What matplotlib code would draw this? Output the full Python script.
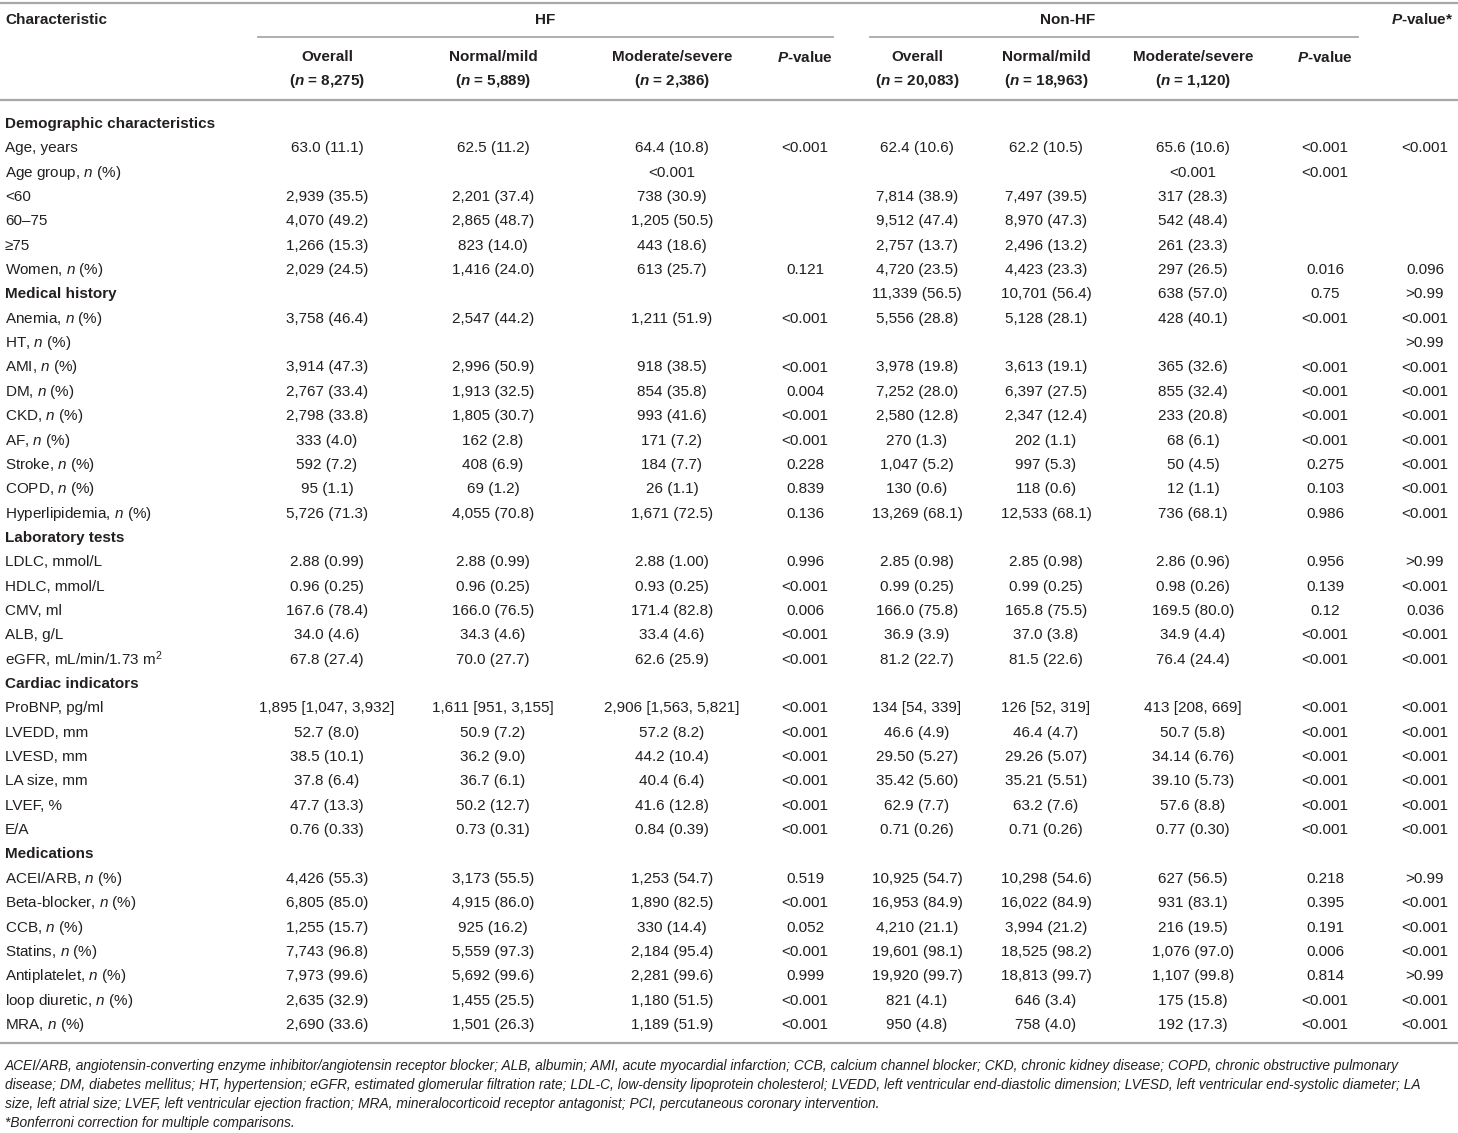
import matplotlib
matplotlib.use("Agg")
import matplotlib.pyplot as plt

plt.rcParams['font.family'] = ['Liberation Sans', 'DejaVu Sans']
plt.rcParams['mathtext.fontset'] = 'custom'
plt.rcParams['mathtext.rm'] = 'Liberation Sans'
plt.rcParams['mathtext.it'] = 'Liberation Sans:italic'
plt.rcParams['mathtext.bf'] = 'Liberation Sans:bold'
plt.rcParams['mathtext.bfit'] = 'Liberation Sans:italic:bold'

N = r'$\mathit{n}$'

# row labels and section flags
labels = ['Demographic characteristics', 'Age, years', 'Age group, ' + N + ' (%)', '<60', '60\u201375', '\u226575',
          'Women, ' + N + ' (%)', 'Medical history', 'Anemia, ' + N + ' (%)', 'HT, ' + N + ' (%)',
          'AMI, ' + N + ' (%)', 'DM, ' + N + ' (%)', 'CKD, ' + N + ' (%)', 'AF, ' + N + ' (%)',
          'Stroke, ' + N + ' (%)', 'COPD, ' + N + ' (%)', 'Hyperlipidemia, ' + N + ' (%)',
          'Laboratory tests', 'LDLC, mmol/L', 'HDLC, mmol/L', 'CMV, ml', 'ALB, g/L',
          'eGFR, mL/min/1.73 m$^2$', 'Cardiac indicators', 'ProBNP, pg/ml', 'LVEDD, mm', 'LVESD, mm',
          'LA size, mm', 'LVEF, %', 'E/A', 'Medications', 'ACEI/ARB, ' + N + ' (%)',
          'Beta-blocker, ' + N + ' (%)', 'CCB, ' + N + ' (%)', 'Statins, ' + N + ' (%)',
          'Antiplatelet, ' + N + ' (%)', 'loop diuretic, ' + N + ' (%)', 'MRA, ' + N + ' (%)']
sections = [0, 7, 17, 23, 30]

hf_overall = ['', '63.0 (11.1)', '', '2,939 (35.5)', '4,070 (49.2)', '1,266 (15.3)', '2,029 (24.5)', '',
              '3,758 (46.4)', '', '3,914 (47.3)', '2,767 (33.4)', '2,798 (33.8)', '333 (4.0)', '592 (7.2)',
              '95 (1.1)', '5,726 (71.3)', '', '2.88 (0.99)', '0.96 (0.25)', '167.6 (78.4)', '34.0 (4.6)',
              '67.8 (27.4)', '', '1,895 [1,047, 3,932]', '52.7 (8.0)', '38.5 (10.1)', '37.8 (6.4)',
              '47.7 (13.3)', '0.76 (0.33)', '', '4,426 (55.3)', '6,805 (85.0)', '1,255 (15.7)',
              '7,743 (96.8)', '7,973 (99.6)', '2,635 (32.9)', '2,690 (33.6)']
hf_mild = ['', '62.5 (11.2)', '', '2,201 (37.4)', '2,865 (48.7)', '823 (14.0)', '1,416 (24.0)', '',
           '2,547 (44.2)', '', '2,996 (50.9)', '1,913 (32.5)', '1,805 (30.7)', '162 (2.8)', '408 (6.9)',
           '69 (1.2)', '4,055 (70.8)', '', '2.88 (0.99)', '0.96 (0.25)', '166.0 (76.5)', '34.3 (4.6)',
           '70.0 (27.7)', '', '1,611 [951, 3,155]', '50.9 (7.2)', '36.2 (9.0)', '36.7 (6.1)',
           '50.2 (12.7)', '0.73 (0.31)', '', '3,173 (55.5)', '4,915 (86.0)', '925 (16.2)',
           '5,559 (97.3)', '5,692 (99.6)', '1,455 (25.5)', '1,501 (26.3)']
hf_severe = ['', '64.4 (10.8)', '<0.001', '738 (30.9)', '1,205 (50.5)', '443 (18.6)', '613 (25.7)', '',
             '1,211 (51.9)', '', '918 (38.5)', '854 (35.8)', '993 (41.6)', '171 (7.2)', '184 (7.7)',
             '26 (1.1)', '1,671 (72.5)', '', '2.88 (1.00)', '0.93 (0.25)', '171.4 (82.8)', '33.4 (4.6)',
             '62.6 (25.9)', '', '2,906 [1,563, 5,821]', '57.2 (8.2)', '44.2 (10.4)', '40.4 (6.4)',
             '41.6 (12.8)', '0.84 (0.39)', '', '1,253 (54.7)', '1,890 (82.5)', '330 (14.4)',
             '2,184 (95.4)', '2,281 (99.6)', '1,180 (51.5)', '1,189 (51.9)']
hf_p = ['', '<0.001', '', '', '', '', '0.121', '', '<0.001', '', '<0.001', '0.004', '<0.001', '<0.001',
        '0.228', '0.839', '0.136', '', '0.996', '<0.001', '0.006', '<0.001', '<0.001', '', '<0.001',
        '<0.001', '<0.001', '<0.001', '<0.001', '<0.001', '', '0.519', '<0.001', '0.052', '<0.001',
        '0.999', '<0.001', '<0.001']
non_overall = ['', '62.4 (10.6)', '', '7,814 (38.9)', '9,512 (47.4)', '2,757 (13.7)', '4,720 (23.5)',
               '11,339 (56.5)', '5,556 (28.8)', '', '3,978 (19.8)', '7,252 (28.0)', '2,580 (12.8)',
               '270 (1.3)', '1,047 (5.2)', '130 (0.6)', '13,269 (68.1)', '', '2.85 (0.98)', '0.99 (0.25)',
               '166.0 (75.8)', '36.9 (3.9)', '81.2 (22.7)', '', '134 [54, 339]', '46.6 (4.9)',
               '29.50 (5.27)', '35.42 (5.60)', '62.9 (7.7)', '0.71 (0.26)', '', '10,925 (54.7)',
               '16,953 (84.9)', '4,210 (21.1)', '19,601 (98.1)', '19,920 (99.7)', '821 (4.1)', '950 (4.8)']
non_mild = ['', '62.2 (10.5)', '', '7,497 (39.5)', '8,970 (47.3)', '2,496 (13.2)', '4,423 (23.3)',
            '10,701 (56.4)', '5,128 (28.1)', '', '3,613 (19.1)', '6,397 (27.5)', '2,347 (12.4)',
            '202 (1.1)', '997 (5.3)', '118 (0.6)', '12,533 (68.1)', '', '2.85 (0.98)', '0.99 (0.25)',
            '165.8 (75.5)', '37.0 (3.8)', '81.5 (22.6)', '', '126 [52, 319]', '46.4 (4.7)',
            '29.26 (5.07)', '35.21 (5.51)', '63.2 (7.6)', '0.71 (0.26)', '', '10,298 (54.6)',
            '16,022 (84.9)', '3,994 (21.2)', '18,525 (98.2)', '18,813 (99.7)', '646 (3.4)', '758 (4.0)']
non_severe = ['', '65.6 (10.6)', '<0.001', '317 (28.3)', '542 (48.4)', '261 (23.3)', '297 (26.5)',
              '638 (57.0)', '428 (40.1)', '', '365 (32.6)', '855 (32.4)', '233 (20.8)', '68 (6.1)',
              '50 (4.5)', '12 (1.1)', '736 (68.1)', '', '2.86 (0.96)', '0.98 (0.26)', '169.5 (80.0)',
              '34.9 (4.4)', '76.4 (24.4)', '', '413 [208, 669]', '50.7 (5.8)', '34.14 (6.76)',
              '39.10 (5.73)', '57.6 (8.8)', '0.77 (0.30)', '', '627 (56.5)', '931 (83.1)', '216 (19.5)',
              '1,076 (97.0)', '1,107 (99.8)', '175 (15.8)', '192 (17.3)']
non_p = ['', '<0.001', '<0.001', '', '', '', '0.016', '0.75', '<0.001', '', '<0.001', '<0.001', '<0.001',
         '<0.001', '0.275', '0.103', '0.986', '', '0.956', '0.139', '0.12', '<0.001', '<0.001', '',
         '<0.001', '<0.001', '<0.001', '<0.001', '<0.001', '<0.001', '', '0.218', '0.395', '0.191',
         '0.006', '0.814', '<0.001', '<0.001']
p_star = ['', '<0.001', '', '', '', '', '0.096', '>0.99', '<0.001', '>0.99', '<0.001', '<0.001', '<0.001',
          '<0.001', '<0.001', '<0.001', '<0.001', '', '>0.99', '<0.001', '0.036', '<0.001', '<0.001', '',
          '<0.001', '<0.001', '<0.001', '<0.001', '<0.001', '<0.001', '', '>0.99', '<0.001', '<0.001',
          '<0.001', '>0.99', '<0.001', '<0.001']

sub_heads = ['Overall', 'Normal/mild', 'Moderate/severe', r'$\mathbfit{P}$-value',
             'Overall', 'Normal/mild', 'Moderate/severe', r'$\mathbfit{P}$-value']
sub_n = ['8,275', '5,889', '2,386', '', '20,083', '18,963', '1,120', '']

footnotes = [
    'ACEI/ARB, angiotensin-converting enzyme inhibitor/angiotensin receptor blocker; ALB, albumin; AMI, acute myocardial '
    'infarction; CCB, calcium channel blocker; CKD, chronic kidney disease; COPD, chronic obstructive pulmonary',
    'disease; DM, diabetes mellitus; HT, hypertension; eGFR, estimated glomerular filtration rate; LDL-C, low-density '
    'lipoprotein cholesterol; LVEDD, left ventricular end-diastolic dimension; LVESD, left ventricular end-systolic diameter; LA',
    'size, left atrial size; LVEF, left ventricular ejection fraction; MRA, mineralocorticoid receptor antagonist; PCI, '
    'percutaneous coronary intervention.',
    '*Bonferroni correction for multiple comparisons.',
]

W, H = 1458, 1133
fig = plt.figure(figsize=(W / 100, H / 100), dpi=100)
ax = fig.add_axes([0, 0, 1, 1])
ax.set_xlim(0, W)
ax.set_ylim(H, 0)
ax.axis('off')

txt = '#231f20'
line_c = '#a8a8a8'
fs = 11.0

col_x = [327, 493, 672, 805, 917, 1046, 1193, 1325, 1425]
columns = [hf_overall, hf_mild, hf_severe, hf_p, non_overall, non_mild, non_severe, non_p, p_star]

# rules
ax.plot([0, W], [3, 3], color=line_c, lw=1.6)
ax.plot([258, 833], [37, 37], color=line_c, lw=1.3)
ax.plot([870, 1358], [37, 37], color=line_c, lw=1.3)
ax.plot([0, W], [100, 100], color=line_c, lw=1.6)
ax.plot([0, W], [1043, 1043], color=line_c, lw=1.6)

# header
ax.text(5, 20, 'Characteristic', fontsize=fs, fontweight='bold', color=txt, va='center', ha='left')
ax.text(545, 20, 'HF', fontsize=fs, fontweight='bold', color=txt, va='center', ha='center')
ax.text(1068, 20, 'Non-HF', fontsize=fs, fontweight='bold', color=txt, va='center', ha='center')
ax.text(1422, 20, r'$\mathbfit{P}$-value*', fontsize=fs, fontweight='bold', color=txt, va='center', ha='center')
for i in range(8):
    ax.text(col_x[i], 57, sub_heads[i], fontsize=fs, fontweight='bold', color=txt, va='center', ha='center')
    if sub_n[i]:
        ax.text(col_x[i], 81, r'($\mathbfit{n}$ = ' + sub_n[i] + ')', fontsize=fs, fontweight='bold',
                color=txt, va='center', ha='center')

# body
y0, dy = 124, 24.35
for r, lab in enumerate(labels):
    y = y0 + r * dy
    bold = 'bold' if r in sections else 'normal'
    ax.text(5, y, lab, fontsize=fs, fontweight=bold, color=txt, va='center', ha='left')
    for c, col in enumerate(columns):
        if col[r]:
            ax.text(col_x[c], y, col[r], fontsize=fs, color=txt, va='center', ha='center')

# footnotes
for k, (fy, note) in enumerate(zip([1066, 1085, 1104, 1123], footnotes)):
    ax.text(5, fy, note, fontsize=9.9, style='italic', color=txt, va='center', ha='left')

fig.savefig('out.png', dpi=100, facecolor='white')
